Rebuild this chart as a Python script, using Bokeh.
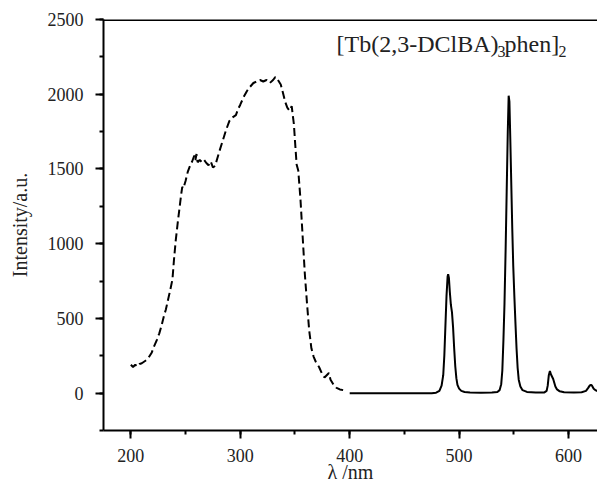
from bokeh.plotting import figure
from bokeh.models import LinearAxis, SingleIntervalTicker, Label, Range1d, Span
from bokeh.embed import file_html
from bokeh.resources import INLINE

# Excitation spectrum (dashed)
exc_wl = [200, 202, 204, 206, 208, 210, 213, 216, 219, 221, 224, 226, 228, 230, 232, 234, 236, 238,
          239.5, 241, 243, 245, 246, 247, 248, 250, 252, 254, 256, 258, 259, 260, 261, 263, 265, 267,
          269, 271, 273, 275, 277, 279, 281, 284, 287, 290, 292, 294, 296, 298, 300, 303, 306, 309,
          312, 315, 318, 321, 324, 327, 330, 332, 334, 337, 339, 341, 343, 345, 347, 349, 350, 351.5,
          353, 355, 357, 359, 361, 363, 365, 367, 369, 372, 375, 377, 379, 381, 382.5, 385, 388, 391, 394]
exc_int = [190, 175, 190, 178, 195, 200, 215, 235, 270, 310, 360, 400, 450, 510, 560, 625, 690, 760,
           900, 1020, 1150, 1270, 1330, 1380, 1370, 1420, 1480, 1520, 1550, 1590, 1560, 1600, 1545, 1560, 1545, 1560,
           1540, 1525, 1550, 1510, 1520, 1570, 1620, 1690, 1760, 1820, 1840, 1850, 1860, 1900, 1930, 1980, 2020, 2050,
           2075, 2085, 2095, 2085, 2095, 2075, 2095, 2115, 2100, 2065, 2010, 1950, 1910, 1890, 1920, 1800, 1690, 1530,
           1490, 1300, 1050, 800, 600, 420, 300, 245, 210, 175, 125, 105, 120, 135, 90, 60, 35, 25, 20]

# Emission spectrum (solid)
em_wl = [400, 420, 440, 460, 475, 479, 482, 484, 485.5, 486.5, 487.5, 488.5, 489.5, 490, 490.7, 491.5,
         492.5, 493.5, 494.5, 495.5, 496.5, 497.5, 498.5, 500, 502, 505, 510, 520, 530, 535, 537, 538.5,
         539.5, 540.5, 541.5, 542.5, 543.5, 544.5, 545.3, 546, 546.8, 547.7, 548.6, 549.5, 550.5, 551.5,
         552.5, 553.5, 554.5, 556, 558, 562, 570, 578, 580, 581, 582, 583, 584, 585, 586, 587, 588, 589.5,
         592, 596, 605, 612, 616, 618, 619.5, 620.5, 621.5, 623, 625, 627]
em_int = [0, 0, 0, 0, 0, 3, 15, 50, 120, 250, 450, 650, 780, 795, 770, 680,
          590, 540, 440, 300, 180, 100, 55, 30, 15, 8, 5, 3, 4, 8, 20, 60,
          150, 350, 600, 950, 1350, 1750, 1990, 1950, 1700, 1400, 1100, 850, 650, 470,
          300, 170, 90, 45, 20, 8, 4, 5, 15, 50, 120, 148, 125, 110, 95, 70, 45, 25,
          12, 6, 4, 6, 15, 35, 52, 55, 50, 30, 18, 12]

x_ticks = [200, 300, 400, 500, 600]
y_ticks = [0, 500, 1000, 1500, 2000, 2500]
title_parts = ["[Tb(2,3-DClBA)", "3", "phen]", "2"]
x_label = "λ /nm"
y_label = "Intensity/a.u."

FONT = "Liberation Serif"
TXT = "#222222"

p = figure(width=597, height=485, output_backend="svg", toolbar_location=None,
           x_range=Range1d(175, 626.5), y_range=Range1d(-250, 2500),
           min_border_left=103, min_border_right=0, min_border_top=19, min_border_bottom=55,
           x_axis_location=None, y_axis_location=None)
p.title.visible = False
p.outline_line_color = None
p.grid.visible = False

def style_axis(ax, major_interval):
    ax.ticker = SingleIntervalTicker(interval=major_interval, num_minor_ticks=2)
    ax.axis_line_width = 2
    ax.axis_line_color = "black"
    ax.major_tick_line_width = 2
    ax.minor_tick_line_width = 2
    ax.major_tick_out = 8
    ax.major_tick_in = 0
    ax.minor_tick_out = 4
    ax.minor_tick_in = 0
    ax.major_label_text_font = FONT
    ax.major_label_text_font_size = "18px"
    ax.major_label_text_color = TXT
    ax.axis_label_text_font = FONT
    ax.axis_label_text_font_style = "normal"
    ax.axis_label_text_font_size = "20px"
    ax.axis_label_text_color = TXT

xaxis = LinearAxis(axis_label=x_label)
style_axis(xaxis, x_ticks[1] - x_ticks[0])
xaxis.major_label_standoff = 10
xaxis.axis_label_standoff = -4
p.add_layout(xaxis, "below")

yaxis = LinearAxis(axis_label=y_label)
style_axis(yaxis, y_ticks[1] - y_ticks[0])
yaxis.major_label_standoff = 12
yaxis.axis_label_standoff = 14
p.add_layout(yaxis, "left")

# top frame line
p.add_layout(Span(location=y_ticks[-1], dimension="width", line_color="black", line_width=3))

p.line(exc_wl, exc_int, line_color="black", line_width=2, line_dash="8 4")
p.line(em_wl, em_int, line_color="black", line_width=2)

# Title with subscripts
x0, y0 = 388, 2335
offsets = [0, 161, 168, 222]
sizes = ["24px", "16px", "24px", "16px"]
dys = [0, -7, 0, -7]
for t, xo, fs, dy in zip(title_parts, offsets, sizes, dys):
    p.add_layout(Label(x=x0, y=y0, x_offset=xo, y_offset=dy, text=t, text_font=FONT,
                       text_font_size=fs, text_color=TXT, text_baseline="alphabetic"))

open("out.html", "w").write(file_html(p, INLINE))
